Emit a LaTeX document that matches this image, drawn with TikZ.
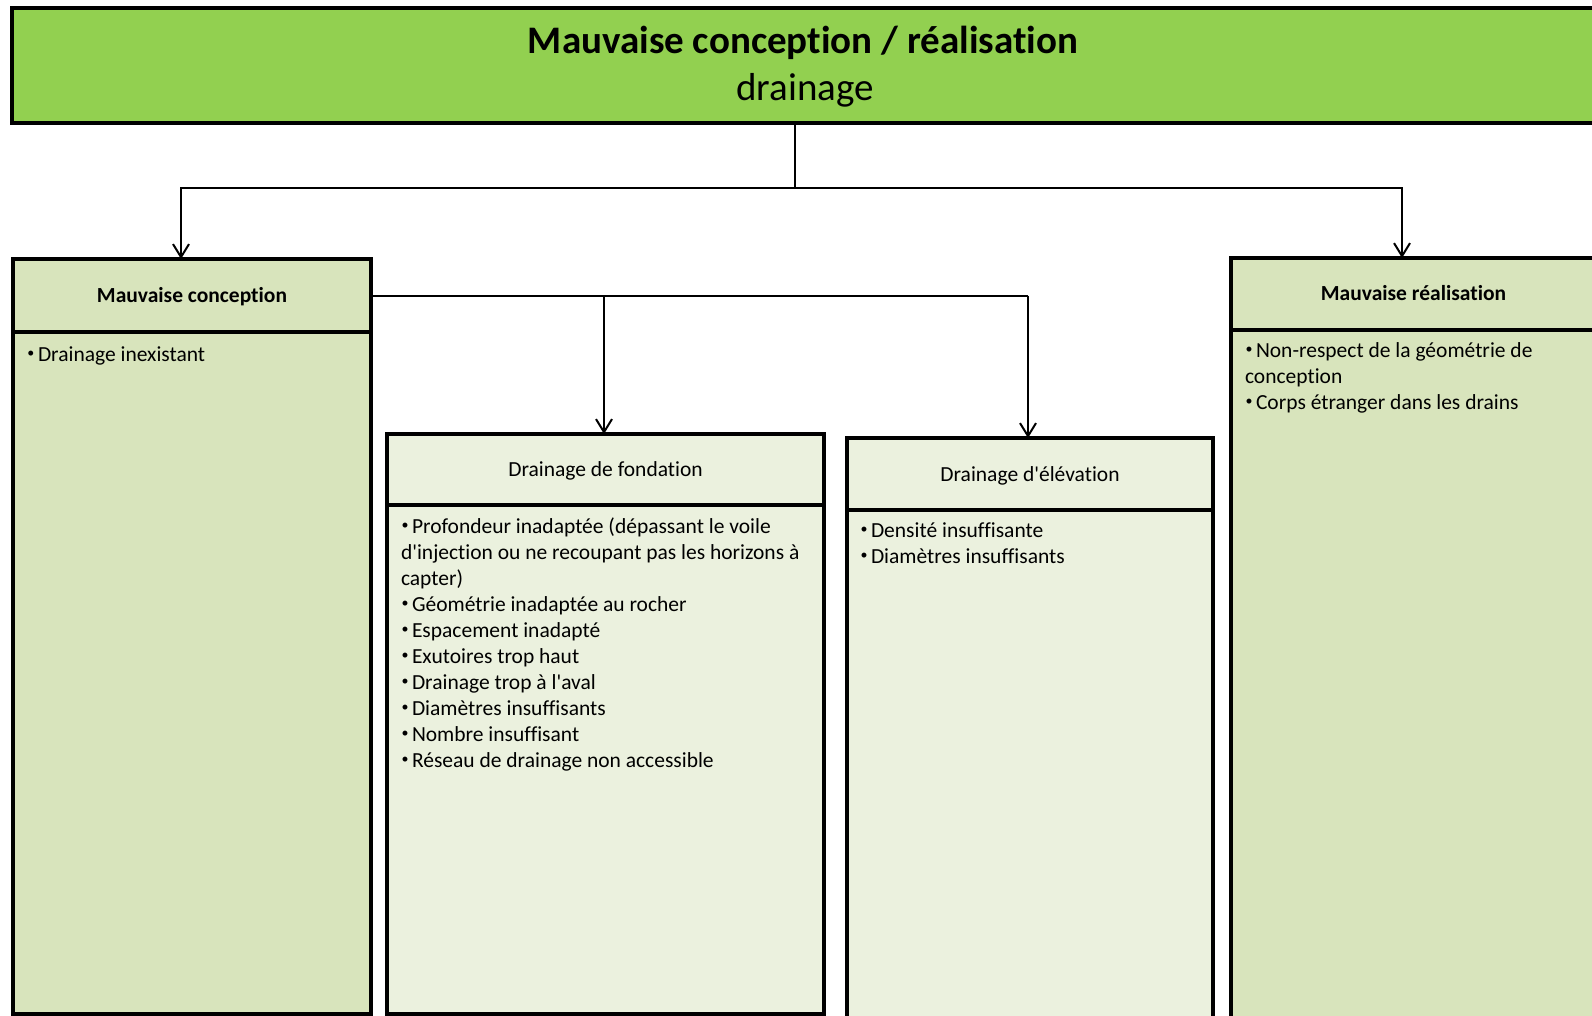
\documentclass[tikz,border=0pt]{standalone}
\usepackage{fontspec}
\setmainfont{Carlito}[Ligatures={NoCommon}]
\usetikzlibrary{arrows.meta}
\definecolor{topgreen}{HTML}{92D050}
\definecolor{olivebox}{HTML}{D8E4BC}
\definecolor{palebox}{HTML}{EBF1DE}
\tikzset{
 box/.style={draw=black, line width=4.5pt, rectangle, anchor=north west, outer sep=0pt, inner sep=0pt, text height=16pt, text depth=2pt},
 conn/.style={draw=black, line width=2pt},
 arr/.style={conn, -{Straight Barb[length=13pt,width=16pt,line width=2pt]}},
 hdrb/.style={font=\bfseries\fontsize{21.5}{26}\selectfont},
 hdrr/.style={font=\fontsize{21.5}{26}\selectfont},
 bodytxt/.style={anchor=north west, inner sep=0pt, outer sep=0pt, align=left, font=\fontsize{21.5}{26}\selectfont},
}
\newcommand{\itm}{\makebox[11pt][l]{\hspace{0.5pt}\raisebox{3.5pt}{\fontsize{14}{14}\selectfont •}}}
\newcommand{\apo}{\textquotesingle}
\begin{document}
\begin{tikzpicture}[x=1pt,y=-1pt]
\useasboundingbox (0,0) rectangle (1592,1016);
\fill[white] (0,0) rectangle (1592,1016);
\begin{scope}
\clip (0,0) rectangle (1592,1016);
% title box
\node[box, fill=topgreen, minimum width=1584pt, minimum height=115pt] (top) at (12,8) {};
\node[anchor=base, font=\bfseries\fontsize{39}{46}\selectfont] (t1) at (803,54) {Mauvaise conception / réalisation};
\node[anchor=base, font=\fontsize{39}{46}\selectfont] (t2) at (805,101) {drainage};
% Mauvaise conception
\node[box, fill=olivebox, minimum width=358pt, minimum height=682pt] (mcb) at (13,332) {};
\node[box, fill=olivebox, minimum width=358pt, minimum height=73pt, hdrb] (mch) at (13,259) {Mauvaise conception};
% Drainage de fondation
\node[box, fill=palebox, minimum width=437pt, minimum height=509pt] (fb) at (387,505) {};
\node[box, fill=palebox, minimum width=437pt, minimum height=71pt, hdrr] (fh) at (387,434) {Drainage de fondation};
% Drainage d'elevation
\node[box, fill=palebox, minimum width=366pt, minimum height=520pt] (eb) at (847,510) {};
\node[box, fill=palebox, minimum width=366pt, minimum height=72pt, hdrr] (eh) at (847,438) {Drainage d\apo élévation};
% Mauvaise realisation
\node[box, fill=olivebox, minimum width=365pt, minimum height=700pt] (mrb) at (1231,330) {};
\node[box, fill=olivebox, minimum width=365pt, minimum height=72pt, hdrb] (mrh) at (1231,258) {Mauvaise réalisation};
% body texts
\node[bodytxt] (mct) at (27,343) {\strut\itm Drainage inexistant};
\node[bodytxt] (ft) at (401,515) {\strut\itm Profondeur inadaptée (dépassant le voile\\
d\apo injection ou ne recoupant pas les horizons à\\
capter)\\
\itm Géométrie inadaptée au rocher\\
\itm Espacement inadapté\\
\itm Exutoires trop haut\\
\itm Drainage trop à l\apo aval\\
\itm Diamètres insuffisants\\
\itm Nombre insuffisant\\
\itm Réseau de drainage non accessible};
\node[bodytxt] (et) at (860,519) {\strut\itm Densité insuffisante\\
\itm Diamètres insuffisants};
\node[bodytxt] (mrt) at (1245,339) {\strut\itm Non-respect de la géométrie de\\
conception\\
\itm Corps étranger dans les drains};
% connectors
\coordinate (j0) at (795,188);
\coordinate (jl) at (181,188);
\coordinate (jr) at (1402,188);
\draw[conn] (top.south -| j0) -- (j0);
\draw[arr] (j0) -- (jl) -- (jl |- mch.north);
\draw[arr] (j0) -- (jr) -- (jr |- mrh.north);
\coordinate (jf) at (604,0);
\coordinate (je) at (1028,0);
\draw[conn] (mch.east) -- (mch.east -| je);
\draw[arr] (mch.east -| jf) -- (jf |- fh.north);
\draw[arr] (mch.east -| je) -- (je |- eh.north);
\end{scope}
\end{tikzpicture}
\end{document}
